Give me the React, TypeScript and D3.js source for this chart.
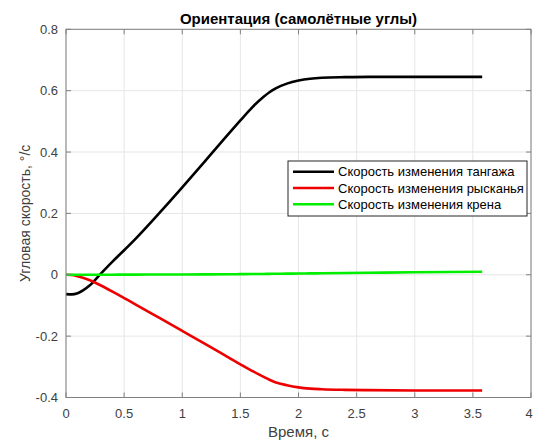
import React, { useEffect } from "react";
import * as d3 from "d3";

const times = [0, 0.05, 0.1, 0.2, 0.3, 0.4, 0.5, 0.6, 0.8, 1.0, 1.2, 1.4, 1.5, 1.6, 1.7, 1.75, 1.8, 1.9, 2.0, 2.1, 2.2, 2.4, 2.6, 3.0, 3.58];
const pitchRate = [-0.063, -0.064, -0.06, -0.036, 0.004, 0.043, 0.08, 0.118, 0.2, 0.285, 0.372, 0.46, 0.503, 0.545, 0.58, 0.595, 0.607, 0.623, 0.633, 0.639, 0.642, 0.644, 0.645, 0.645, 0.645];
const yawRate = [0, -0.001, -0.005, -0.017, -0.035, -0.055, -0.076, -0.097, -0.14, -0.183, -0.226, -0.27, -0.292, -0.313, -0.333, -0.342, -0.35, -0.36, -0.367, -0.371, -0.373, -0.375, -0.376, -0.377, -0.377];
const rollRate = [0, 0, 0, 0.0001, 0.0002, 0.0003, 0.0005, 0.0006, 0.0008, 0.001, 0.0013, 0.0017, 0.002, 0.0023, 0.0027, 0.003, 0.0032, 0.0036, 0.004, 0.0044, 0.0048, 0.0056, 0.0064, 0.008, 0.01];

const xTicks = [0, 0.5, 1, 1.5, 2, 2.5, 3, 3.5, 4];
const yTicks = [-0.4, -0.2, 0, 0.2, 0.4, 0.6, 0.8];
const seriesNames = ["Скорость изменения тангажа", "Скорость изменения рысканья", "Скорость изменения крена"];
const seriesColors = ["#000000", "#ee0000", "#00ee00"];
const seriesValues = [pitchRate, yawRate, rollRate];

const title = "Ориентация (самолётные углы)";
const xLabel = "Время, с";
const yLabel = "Угловая скорость, °/с";

const W = 533, H = 444;
const L = 66, R = 531, T = 29.3, B = 397.5;
const FONT = "'Liberation Sans', Arial, sans-serif";

export default function App() {
  useEffect(() => {
    document.body.style.margin = "0";
  }, []);
  const x = d3.scaleLinear().domain([0, 4]).range([L, R]);
  const y = d3.scaleLinear().domain([-0.4, 0.8]).range([B, T]);
  const line = d3
    .line<[number, number]>()
    .x((d) => x(d[0]))
    .y((d) => y(d[1]))
    .curve(d3.curveMonotoneX);
  const fmt = (v: number) => (v === 0 ? "0" : String(v));
  const axisColor = "#808080";
  const textColor = "#404040";
  const legX = 288, legY = 161, legW = 239, legH = 55;
  return (
    <svg width={W} height={H} style={{ display: "block", background: "#fff" }} fontFamily={FONT}>
      <rect x={0} y={0} width={W} height={H} fill="#fff" />
      {xTicks.map((t) => (
        <line key={"gx" + t} x1={x(t)} x2={x(t)} y1={T} y2={B} stroke="#e6e6e6" strokeWidth={1} />
      ))}
      {yTicks.map((t) => (
        <line key={"gy" + t} x1={L} x2={R} y1={y(t)} y2={y(t)} stroke="#e6e6e6" strokeWidth={1} />
      ))}
      {seriesValues.map((vals, i) => (
        <path
          key={"s" + i}
          d={line(times.map((t, j) => [t, vals[j]] as [number, number])) || ""}
          fill="none"
          stroke={seriesColors[i]}
          strokeWidth={2.6}
          strokeLinejoin="round"
        />
      ))}
      <rect x={L} y={T} width={R - L} height={B - T} fill="none" stroke={axisColor} strokeWidth={1} />
      {xTicks.map((t) => (
        <g key={"tx" + t}>
          <line x1={x(t)} x2={x(t)} y1={B} y2={B - 5} stroke={axisColor} />
          <line x1={x(t)} x2={x(t)} y1={T} y2={T + 5} stroke={axisColor} />
          <text x={Math.min(x(t), W - 4)} y={418} fontSize={13} textAnchor="middle" fill={textColor}>
            {fmt(t)}
          </text>
        </g>
      ))}
      {yTicks.map((t) => (
        <g key={"ty" + t}>
          <line x1={L} x2={L + 5} y1={y(t)} y2={y(t)} stroke={axisColor} />
          <line x1={R} x2={R - 5} y1={y(t)} y2={y(t)} stroke={axisColor} />
          <text x={58} y={y(t) + 4.5} fontSize={13} textAnchor="end" fill={textColor}>
            {fmt(t)}
          </text>
        </g>
      ))}
      <text x={(L + R) / 2} y={23.5} fontSize={15} fontWeight="bold" textAnchor="middle" fill="#000">
        {title}
      </text>
      <text x={(L + R) / 2} y={437} fontSize={15} textAnchor="middle" fill={textColor}>
        {xLabel}
      </text>
      <text
        transform={`translate(30, ${(T + B) / 2}) rotate(-90)`}
        fontSize={14}
        textAnchor="middle"
        fill={textColor}
      >
        {yLabel}
      </text>
      <rect x={legX} y={legY} width={legW} height={legH} fill="#fff" stroke="#262626" strokeWidth={1} />
      {seriesNames.map((n, i) => {
        const ly = legY + 10.7 + i * 16.3;
        return (
          <g key={"l" + i}>
            <line x1={legX + 5} x2={legX + 46} y1={ly} y2={ly} stroke={seriesColors[i]} strokeWidth={2.6} />
            <text x={legX + 50} y={ly + 4.5} fontSize={13} fill="#000">
              {n}
            </text>
          </g>
        );
      })}
    </svg>
  );
}
